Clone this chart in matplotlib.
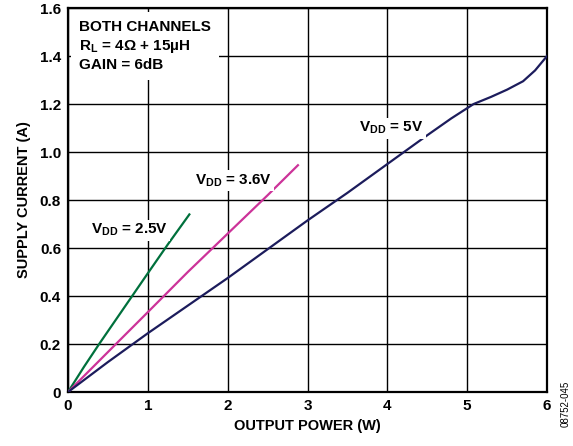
import matplotlib.pyplot as plt

plt.rcParams['font.family'] = ['Liberation Sans', 'DejaVu Sans']
plt.rcParams['font.weight'] = 'bold'
plt.rcParams['mathtext.fontset'] = 'custom'
plt.rcParams['mathtext.bf'] = 'Liberation Sans:bold'
plt.rcParams['mathtext.rm'] = 'Liberation Sans:bold'

# supply current vs output power
p_25 = [0.0, 0.2, 0.4, 0.7, 1.0, 1.25, 1.52]
i_25 = [0.0, 0.105, 0.205, 0.35, 0.495, 0.615, 0.74]

p_36 = [0.0, 0.6, 1.0, 1.5, 2.0, 2.5, 2.88]
i_36 = [0.0, 0.2, 0.333, 0.5, 0.66, 0.82, 0.945]

p_50 = [0.0, 0.5, 1.0, 1.5, 2.0, 2.5, 3.0, 3.5, 4.0, 4.5, 4.8, 5.08, 5.3, 5.5, 5.7, 5.85, 6.0]
i_50 = [0.0, 0.125, 0.245, 0.36, 0.475, 0.595, 0.715, 0.83, 0.95, 1.07, 1.14, 1.2, 1.23, 1.26, 1.295, 1.34, 1.40]

x_ticks = [0, 1, 2, 3, 4, 5, 6]
y_ticks = [0, 0.2, 0.4, 0.6, 0.8, 1.0, 1.2, 1.4, 1.6]
y_labels = ['0', '0.2', '0.4', '0.6', '0.8', '1.0', '1.2', '1.4', '1.6']

fig = plt.figure(figsize=(5.73, 4.46), dpi=100)
ax = fig.add_axes([0.1187, 0.121, 0.836, 0.861])

ax.plot(p_25, i_25, color='#00703c', lw=1.6, zorder=3)
ax.plot(p_36, i_36, color='#cc3399', lw=1.6, zorder=3)
ax.plot(p_50, i_50, color='#1c1c5c', lw=1.6, zorder=3)

ax.set_xlim(0, 6)
ax.set_ylim(0, 1.6)
ax.set_xticks(x_ticks)
ax.set_yticks(y_ticks)
ax.set_yticklabels(y_labels)
ax.tick_params(length=0, labelsize=11, pad=5)
ax.grid(True, color='black', lw=1.0)
ax.set_axisbelow(True)
for s in ax.spines.values():
    s.set_linewidth(1.6)

ax.set_xlabel('OUTPUT POWER (W)', fontsize=10.5, fontweight='bold', labelpad=4)
ax.set_ylabel('SUPPLY CURRENT (A)', fontsize=10.5, fontweight='bold', labelpad=6)

bb = dict(facecolor='white', edgecolor='none', pad=1.5)
ax.text(0.77, 0.675, r'V$_{\mathbf{DD}}$ = 2.5V', fontsize=11, fontweight='bold',
        ha='center', va='center', bbox=bb, zorder=4)
ax.text(2.07, 0.88, r'V$_{\mathbf{DD}}$ = 3.6V', fontsize=11, fontweight='bold',
        ha='center', va='center', bbox=bb, zorder=4)
ax.text(4.05, 1.10, r'V$_{\mathbf{DD}}$ = 5V', fontsize=11, fontweight='bold',
        ha='center', va='center', bbox=bb, zorder=4)

ax.text(0.14, 1.55, 'BOTH CHANNELS\nR$_{\\mathbf{L}}$ = 4Ω + 15µH\nGAIN = 6dB', fontsize=11,
        fontweight='bold', ha='left', va='top', linespacing=1.3,
        bbox=dict(facecolor='white', edgecolor='none', pad=6), zorder=4)

fig.text(0.987, 0.095, '08752-045', rotation=90, fontsize=7, fontweight='normal',
         ha='center', va='center')

fig.savefig('out.png', dpi=100)
